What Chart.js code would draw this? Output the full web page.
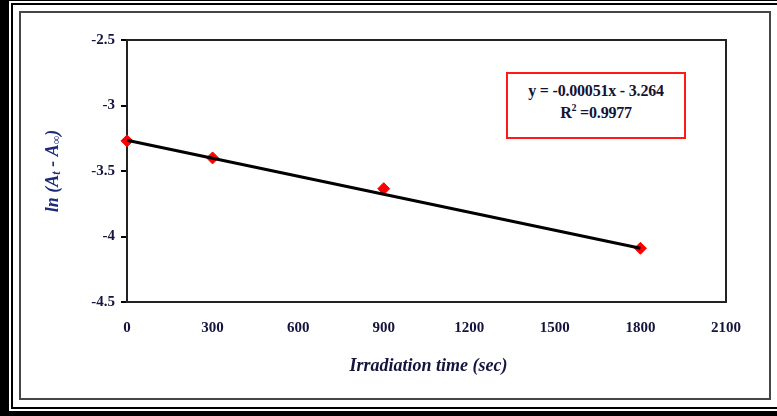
<!DOCTYPE html>
<html>
<head>
<meta charset="utf-8">
<script src="https://cdn.jsdelivr.net/npm/chart.js@4/dist/chart.umd.min.js"></script>
<style>
  html, body { margin: 0; padding: 0; background: #fff; }
  #wrap { position: relative; width: 777px; height: 416px; overflow: hidden; background: #fff; }
  .blk { position: absolute; background: #000; }
  #frame { position: absolute; left: 19px; top: 11px; width: 748px; height: 385px; border: 2px solid #464646; }
  #eq {
    position: absolute; left: 506px; top: 72px; width: 176px; height: 57px;
    border: 2px solid #ff1a1a; background: #fff;
    font-family: "Liberation Serif", "Times New Roman", serif; font-weight: bold;
    font-size: 16px; color: #141432; text-align: center; line-height: 22px;
    padding-top: 6px; box-sizing: content-box; letter-spacing: -0.2px;
  }
  #eq sup { font-size: 10px; vertical-align: 7px; line-height: 0; }
  canvas { position: absolute; left: 0; top: 0; }
</style>
</head>
<body>
<div id="wrap">
  <div class="blk" style="left:0;top:0;width:777px;height:1px"></div>
  <div class="blk" style="left:0;top:0;width:9px;height:416px"></div>
  <div class="blk" style="left:11px;top:3px;width:766px;height:2px"></div>
  <div class="blk" style="left:11px;top:3px;width:2px;height:406px"></div>
  <div class="blk" style="left:11px;top:407px;width:766px;height:2px"></div>
  <div class="blk" style="left:0;top:411px;width:777px;height:5px"></div>
  <div id="frame"></div>
  <canvas id="chart" width="777" height="416"></canvas>
  <div id="eq">y = -0.00051x - 3.264<br>R<sup>2</sup> =0.9977</div>
</div>
<script>
// measured points
const times = [0, 300, 900, 1800];
const lnValues = [-3.27, -3.40, -3.635, -4.09];
// fitted line as drawn (ends)
const trendX = [0, 1800];
const trendY = [-3.265, -4.09];
const xTicks = [0, 300, 600, 900, 1200, 1500, 1800, 2100];
const yTicks = [-2.5, -3, -3.5, -4, -4.5];

const inkColor = '#14143c';
const serif = '"Liberation Serif", "Times New Roman", serif';

const frameAndTitles = {
    id: 'frameAndTitles',
    beforeDatasetsDraw(chart) {
        const ctx = chart.ctx;
        const a = chart.chartArea;
        ctx.save();
        // box around plot area
        ctx.strokeStyle = '#222';
        ctx.lineWidth = 2;
        ctx.strokeRect(a.left, a.top, a.right - a.left, a.bottom - a.top);
        ctx.restore();
    },
    afterDraw(chart) {
        const ctx = chart.ctx;
        const a = chart.chartArea;
        ctx.save();
        // x title
        ctx.fillStyle = inkColor;
        ctx.font = 'italic bold 18px ' + serif;
        ctx.textAlign = 'center';
        ctx.textBaseline = 'middle';
        ctx.fillText('Irradiation time (sec)', (a.left + a.right) / 2 + 2, 366);

        // y title with subscripts
        ctx.translate(53, (a.top + a.bottom) / 2);
        ctx.rotate(-Math.PI / 2);
        ctx.fillStyle = '#1c2a78';
        const parts = [
            ['ln (A', 18, 0], ['t', 12, 4], [' - A', 18, 0], ['\u221E', 12, 4], [')', 18, 0]
        ];
        let total = 0;
        parts.forEach(p => {
            ctx.font = 'italic bold ' + p[1] + 'px ' + serif;
            total += ctx.measureText(p[0]).width;
        });
        let x = -total / 2;
        ctx.textAlign = 'left';
        parts.forEach(p => {
            ctx.font = 'italic bold ' + p[1] + 'px ' + serif;
            ctx.fillText(p[0], x, p[2]);
            x += ctx.measureText(p[0]).width;
        });
        ctx.restore();
    }
};

const ctx = document.getElementById('chart').getContext('2d');
new Chart(ctx, {
    type: 'scatter',
    data: {
        datasets: [{
            label: 'trend',
            type: 'line',
            data: trendX.map((t, i) => ({ x: t, y: trendY[i] })),
            borderColor: '#000',
            borderWidth: 3,
            pointRadius: 0,
            fill: false,
            clip: false,
            order: 0
        }, {
            label: 'ln(At - Ainf)',
            data: times.map((t, i) => ({ x: t, y: lnValues[i] })),
            pointStyle: 'rectRot',
            pointRadius: 6,
            backgroundColor: '#ff0000',
            borderColor: '#ff0000',
            borderWidth: 1,
            clip: false,
            order: 1
        }]
    },
    options: {
        responsive: false,
        animation: false,
        layout: { padding: { top: 40, right: 51, left: 0, bottom: 0 } },
        plugins: { legend: { display: false }, tooltip: { enabled: false } },
        scales: {
            x: {
                type: 'linear',
                min: 0,
                max: 2100,
                afterBuildTicks: s => { s.ticks = xTicks.map(v => ({ value: v })); },
                afterFit: s => { s.height = 114; },
                grid: { display: false, drawTicks: false },
                border: { display: true, color: '#000', width: 2 },
                ticks: {
                    padding: 17,
                    color: inkColor,
                    font: { family: serif, weight: 'bold', size: 15 },
                    callback: v => String(v)
                }
            },
            y: {
                min: -4.5,
                max: -2.5,
                afterBuildTicks: s => { s.ticks = yTicks.map(v => ({ value: v })); },
                afterFit: s => { s.width = 127; },
                grid: { drawOnChartArea: false, drawTicks: true, tickLength: 6, color: '#000', lineWidth: 2 },
                border: { display: true, color: '#000', width: 2 },
                ticks: {
                    padding: 6,
                    color: inkColor,
                    font: { family: serif, weight: 'bold', size: 15 },
                    callback: v => String(v)
                }
            }
        }
    },
    plugins: [frameAndTitles]
});
</script>
</body>
</html>
